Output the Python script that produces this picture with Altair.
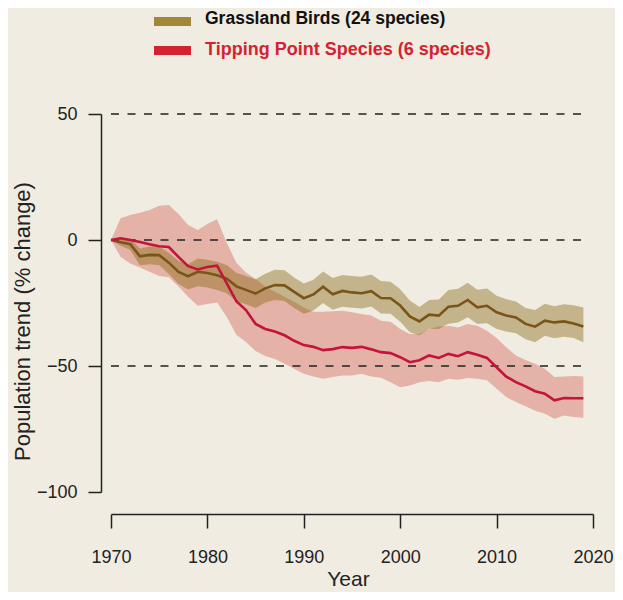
import altair as alt
import pandas as pd

# ---------------- data ----------------
years = list(range(1970, 2020))

grass_mid = [0, -0.9, -1.7, -6.5, -5.9, -6.0, -9.0, -12.7, -14.4, -12.6,
             -13.1, -14.0, -15.3, -18.4, -19.8, -21.3, -19.2, -17.9, -18.0, -20.6,
             -23.1, -21.6, -18.5, -21.5, -20.2, -20.8, -21.1, -20.3, -23.0, -23.1,
             -26.0, -30.3, -32.3, -29.6, -30.0, -26.5, -26.1, -23.8, -26.7, -26.1,
             -28.7, -30.0, -30.7, -33.3, -34.4, -32.0, -32.7, -32.3, -33.1, -34.3]
grass_hi = [0, 0.8, 0.5, -3.4, -2.6, -2.6, -5.2, -8.2, -9.6, -7.3,
            -7.8, -8.6, -9.9, -13.0, -14.3, -15.6, -13.4, -11.8, -12.0, -14.9,
            -17.3, -15.8, -12.5, -15.1, -13.9, -14.3, -14.6, -13.7, -16.3, -16.6,
            -19.5, -24.0, -26.6, -23.8, -23.6, -19.8, -19.3, -17.0, -19.7, -19.2,
            -22.1, -23.5, -24.4, -27.0, -27.8, -25.3, -26.3, -25.5, -25.9, -26.8]
grass_lo = [0, -2.3, -4.0, -10.0, -9.6, -10.0, -13.5, -17.5, -19.6, -18.4,
            -18.8, -19.8, -21.1, -24.2, -25.5, -27.0, -24.8, -23.8, -24.2, -27.0,
            -29.3, -28.0, -25.0, -27.7, -26.5, -26.9, -27.2, -26.4, -29.2, -29.3,
            -32.4, -36.6, -37.8, -35.2, -35.3, -33.2, -32.7, -30.7, -33.3, -33.0,
            -35.3, -36.3, -37.0, -39.4, -40.6, -38.0, -39.0, -38.4, -38.9, -40.6]

tip_mid = [0, 0.7, 0.0, -0.8, -1.7, -2.5, -2.8, -6.7, -10.4, -11.7,
           -10.7, -10.2, -17.1, -24.3, -27.8, -33.3, -35.3, -36.3, -37.8, -40.0,
           -41.7, -42.4, -43.7, -43.3, -42.5, -42.8, -42.4, -43.4, -44.5, -44.9,
           -46.5, -48.5, -47.7, -45.8, -46.8, -45.2, -46.1, -44.5, -45.5, -46.8,
           -50.5, -54.2, -56.4, -58.1, -60.0, -61.0, -63.6, -62.7, -62.8, -62.8]
tip_hi = [0, 8.6, 9.9, 10.8, 11.9, 13.6, 13.9, 10.3, 6.0, 4.0,
          6.3, 8.2, -1.1, -9.0, -12.9, -15.5, -18.5, -20.5, -22.5, -24.5,
          -26.8, -28.5, -28.5, -28.3, -28.1, -28.7, -29.4, -30.0, -32.0, -32.4,
          -35.3, -37.3, -37.3, -35.3, -34.3, -34.0, -34.7, -33.3, -34.0, -36.0,
          -38.9, -42.6, -45.8, -47.6, -49.1, -51.1, -54.4, -54.2, -54.0, -54.2]
tip_lo = [0, -6.7, -9.3, -10.9, -12.6, -14.3, -14.8, -18.5, -22.5, -26.1,
          -25.4, -24.8, -30.5, -37.6, -40.5, -44.0, -46.0, -47.2, -49.1, -51.1,
          -53.1, -54.2, -55.1, -54.4, -53.8, -53.8, -53.1, -54.2, -54.7, -56.4,
          -58.4, -57.7, -56.4, -56.0, -56.4, -55.1, -55.5, -54.8, -55.1, -55.7,
          -59.0, -62.3, -64.3, -66.0, -67.8, -68.9, -70.9, -69.6, -70.2, -70.5]

legend_labels = ["Grassland Birds (24 species)", "Tipping Point Species (6 species)"]
y_ticks = [-100, -50, 0, 50]
x_ticks = [1970, 1980, 1990, 2000, 2010, 2020]
grid_values = [50, 0, -50]

# ---------------- styling ----------------
FONT = "Liberation Sans"
BG = "#F0ECE1"
GRASS_LINE = "#7A5519"
GRASS_BAND = "#83610A"
TIP_LINE = "#C3143A"
TIP_BAND = "#E4B2A6"
GRASS_SWATCH = "#A38738"
TIP_SWATCH = "#D42330"

grass = pd.DataFrame({"year": years, "mid": grass_mid, "hi": grass_hi, "lo": grass_lo})
tip = pd.DataFrame({"year": years, "mid": tip_mid, "hi": tip_hi, "lo": tip_lo})
grid = pd.DataFrame({"v": grid_values, "x0": [years[0]] * 3, "x1": [years[-1]] * 3})

xscale = alt.Scale(domain=[1970, 2020], nice=False, zero=False)
yscale = alt.Scale(domain=[-100, 50], nice=False, zero=False)

xaxis = alt.Axis(values=x_ticks, format="d", title="Year", grid=False,
                 offset=22, tickSize=14, labelPadding=20, titlePadding=2,
                 titleX=237, labelFontSize=18, titleFontSize=21,
                 labelFlush=False, labelOverlap=False,
                 labelFont=FONT, titleFont=FONT, labelColor="#222", titleColor="#222",
                 titleFontWeight="normal", domainColor="#222", tickColor="#222",
                 domainWidth=1.5, tickWidth=1.5)
yaxis = alt.Axis(values=y_ticks, title="Population trend (% change)", grid=False,
                 offset=10, tickSize=13, labelPadding=11, titlePadding=2,
                 titleY=207, labelFontSize=18, titleFontSize=22,
                 labelFlush=False, labelOverlap=False,
                 labelFont=FONT, titleFont=FONT, labelColor="#222", titleColor="#222",
                 titleFontWeight="normal", domainColor="#222", tickColor="#222",
                 domainWidth=1.5, tickWidth=1.5)

base_x = alt.X("year:Q", scale=xscale, axis=xaxis)

tip_band = alt.Chart(tip).mark_area(color=TIP_BAND, opacity=1).encode(
    x=base_x,
    y=alt.Y("hi:Q", scale=yscale, axis=yaxis),
    y2="lo:Q",
)
grass_band = alt.Chart(grass).mark_area(color=GRASS_BAND, opacity=0.4).encode(
    x="year:Q", y="hi:Q", y2="lo:Q"
)
grid_rules = alt.Chart(grid).mark_rule(color="#222222", strokeWidth=1.3,
                                        strokeDash=[8, 8.5]).encode(
    x="x0:Q", x2="x1:Q", y="v:Q"
)
grass_line = alt.Chart(grass).mark_line(color=GRASS_LINE, strokeWidth=2.6).encode(
    x="year:Q", y="mid:Q"
)
tip_line = alt.Chart(tip).mark_line(color=TIP_LINE, strokeWidth=2.6).encode(
    x="year:Q", y="mid:Q"
)

leg1 = pd.DataFrame({"label": [legend_labels[0]]})
leg2 = pd.DataFrame({"label": [legend_labels[1]]})

sw1 = alt.Chart(leg1).mark_rule(color=GRASS_SWATCH, strokeWidth=9, strokeCap="butt").encode(
    x=alt.value(43), x2=alt.value(80), y=alt.value(-92.5))
sw2 = alt.Chart(leg2).mark_rule(color=TIP_SWATCH, strokeWidth=9, strokeCap="butt").encode(
    x=alt.value(43), x2=alt.value(80), y=alt.value(-63.5))
tx1 = alt.Chart(leg1).mark_text(align="left", baseline="alphabetic", font=FONT,
                                fontSize=17.5, fontWeight="bold", color="#111").encode(
    x=alt.value(94), y=alt.value(-90.0), text="label:N")
tx2 = alt.Chart(leg2).mark_text(align="left", baseline="alphabetic", font=FONT,
                                fontSize=18, fontWeight="bold", color=TIP_SWATCH).encode(
    x=alt.value(94), y=alt.value(-59.2), text="label:N")

chart = alt.layer(
    tip_band, grass_band, grid_rules, grass_line, tip_line, sw1, sw2, tx1, tx2
).properties(
    width=482, height=378,
    padding={"left": 103, "top": 106, "right": 22, "bottom": 100},
    autosize=alt.AutoSizeParams(type="none"),
    background=BG,
).configure_view(stroke=None)

chart.save("out.html", embed_options={"renderer": "svg", "actions": False})
